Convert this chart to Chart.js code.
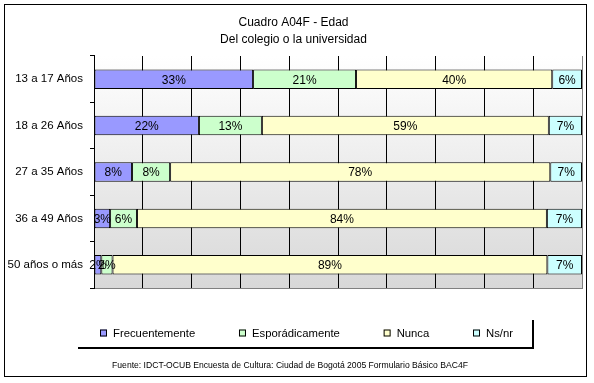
<!DOCTYPE html>
<html><head><meta charset="utf-8">
<script src="https://cdn.jsdelivr.net/npm/chart.js@4"></script>
<style>html,body{margin:0;padding:0;background:#fff}#wrap{width:594px;height:383px}</style>
</head><body><div id="wrap"><canvas id="c" width="594" height="383"></canvas></div>
<script>
const categories = ['13 a 17 Años', '18 a 26 Años', '27 a 35 Años', '36 a 49 Años', '50 años o más'];
const frecuentemente = [32.6, 21.5, 7.8, 3.3, 1.5];
const esporadicamente = [21.1, 12.9, 7.8, 5.5, 2.3];
const nunca = [40.2, 58.8, 77.9, 84.0, 89.1];
const nsnr = [6.1, 6.8, 6.5, 7.2, 7.1];
const seriesNames = ['Frecuentemente', 'Esporádicamente', 'Nunca', 'Ns/nr'];
const titleLines = ['Cuadro A04F - Edad', 'Del colegio o la universidad'];
const sourceNote = 'Fuente: IDCT-OCUB Encuesta de Cultura: Ciudad de Bogotá 2005 Formulario Básico BAC4F';

const FONT = '"Liberation Sans", Arial, sans-serif';
const colors = ['#9999FF', '#CCFFCC', '#FFFFCC', '#CCFFFF'];
const seriesData = [frecuentemente, esporadicamente, nunca, nsnr];

const bgPlugin = {
  id: 'bg',
  beforeDraw(chart) {
    const {ctx, chartArea: a} = chart;
    ctx.save();
    ctx.fillStyle = '#fff';
    ctx.fillRect(0, 0, chart.width, chart.height);
    const g = ctx.createLinearGradient(0, a.top, 0, a.bottom);
    g.addColorStop(0, '#ffffff');
    g.addColorStop(1, '#d8d8d8');
    ctx.fillStyle = g;
    ctx.fillRect(a.left, a.top, a.right - a.left, a.bottom - a.top);
    ctx.restore();
  }
};

const labelPlugin = {
  id: 'barLabels',
  afterDatasetsDraw(chart) {
    const ctx = chart.ctx;
    ctx.save();
    ctx.font = '12px ' + FONT;
    ctx.fillStyle = '#000';
    ctx.textAlign = 'center';
    ctx.textBaseline = 'middle';
    chart.data.datasets.forEach((ds, i) => {
      chart.getDatasetMeta(i).data.forEach((el, j) => {
        const p = el.getCenterPoint();
        ctx.fillText(Math.round(ds.data[j]) + '%', p.x, p.y + 1);
      });
    });
    ctx.restore();
  }
};

const decorPlugin = {
  id: 'decor',
  afterDraw(chart) {
    const ctx = chart.ctx;
    ctx.save();
    // legend
    ctx.font = '11.3px ' + FONT;
    ctx.textBaseline = 'middle';
    ctx.textAlign = 'left';
    const items = chart.data.datasets.map(ds => ({text: ds.label, color: ds.backgroundColor}));
    const box = 7, gap = 6, startX = 100, endX = 513, y = 333;
    const widths = items.map(it => box + gap + ctx.measureText(it.text).width);
    const total = widths.reduce((s, w) => s + w, 0);
    const between = (endX - startX - total) / (items.length - 1);
    let x = startX;
    items.forEach((it, i) => {
      ctx.fillStyle = it.color;
      ctx.fillRect(x, y - 3.5, box, box);
      ctx.strokeStyle = '#000';
      ctx.lineWidth = 1;
      ctx.strokeRect(x + 0.5, y - 3.5 + 0.5, box - 1, box - 1);
      ctx.fillStyle = '#000';
      ctx.fillText(it.text, x + box + gap, y + 1);
      x += widths[i] + between;
    });
    // legend shadow
    ctx.strokeStyle = '#000';
    ctx.lineWidth = 2;
    ctx.beginPath();
    ctx.moveTo(78, 348);
    ctx.lineTo(534, 348);
    ctx.moveTo(533, 320);
    ctx.lineTo(533, 349);
    ctx.stroke();
    // footer
    ctx.font = '8.6px ' + FONT;
    ctx.textAlign = 'center';
    ctx.fillStyle = '#000';
    ctx.fillText(sourceNote, 290, 366);
    // frame
    ctx.lineWidth = 1;
    ctx.strokeRect(4.5, 4.5, 582, 372);
    ctx.restore();
  }
};

new Chart(document.getElementById('c'), {
  type: 'bar',
  data: {
    labels: categories,
    datasets: seriesNames.map((name, i) => ({
      label: name,
      data: seriesData[i],
      backgroundColor: colors[i],
      borderColor: '#000',
      borderWidth: 1,
      borderSkipped: false,
      barPercentage: 0.42,
      categoryPercentage: 1
    }))
  },
  options: {
    indexAxis: 'y',
    responsive: false,
    animation: false,
    devicePixelRatio: 1,
    layout: {padding: {top: 8, left: 5, right: 12, bottom: 95}},
    plugins: {
      legend: {display: false},
      tooltip: {enabled: false},
      title: {
        display: true,
        text: titleLines,
        color: '#000',
        font: {family: FONT, size: 12, weight: 'normal', lineHeight: 1.4},
        padding: {top: 6.6, bottom: 7.8}
      }
    },
    scales: {
      x: {
        stacked: true,
        min: 0,
        max: 100,
        ticks: {display: false, stepSize: 10},
        grid: {
          drawTicks: false,
          color: c => (c.tick && c.tick.value === 100) ? '#808080' : '#000',
          lineWidth: 1
        },
        border: {display: true, color: '#808080', width: 1},
        afterFit(s) { s.height = 0; }
      },
      y: {
        stacked: true,
        ticks: {color: '#000', font: {family: FONT, size: 11.5}, padding: 7},
        grid: {drawOnChartArea: false, drawTicks: true, tickLength: 4, color: '#000', offset: true},
        border: {display: true, color: '#000', width: 1},
        afterFit(s) { s.width = 89; }
      }
    }
  },
  plugins: [bgPlugin, labelPlugin, decorPlugin]
});
</script>
</body></html>
